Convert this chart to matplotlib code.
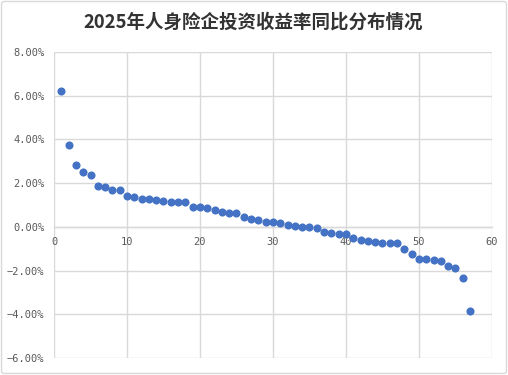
import matplotlib.pyplot as plt
from matplotlib.patches import FancyBboxPatch
from matplotlib.ticker import FuncFormatter

# 57 companies, sorted by year-on-year change in investment yield (%)
rank = list(range(1, 58))
yoy_change = [
    6.21, 3.74, 2.83, 2.51, 2.37, 1.87, 1.83, 1.69, 1.69, 1.42,
    1.37, 1.28, 1.26, 1.23, 1.19, 1.16, 1.16, 1.16, 0.90, 0.90,
    0.87, 0.76, 0.70, 0.65, 0.64, 0.46, 0.38, 0.31, 0.23, 0.23,
    0.18, 0.08, 0.03, 0.00, 0.00, -0.06, -0.24, -0.27, -0.31, -0.34,
    -0.49, -0.59, -0.64, -0.68, -0.73, -0.76, -0.76, -1.02, -1.26, -1.46,
    -1.48, -1.51, -1.58, -1.81, -1.86, -2.34, -3.87,
]
title = "2025年人身险企投资收益率同比分布情况"

grid_c = "#d9d9d9"
text_c = "#595959"

fig = plt.figure(figsize=(5.08, 3.75), dpi=100)
ax = fig.add_axes([0.1063, 0.0453, 0.8622, 0.816])

ax.scatter(rank, yoy_change, s=34, color="#4472C4", zorder=3, linewidths=0)

ax.set_xlim(0, 60)
ax.set_ylim(-6, 8)
ax.set_xticks(range(0, 61, 10))
ax.set_yticks(range(-6, 9, 2))
ax.grid(True, color=grid_c, linewidth=1)
ax.set_axisbelow(True)

for side in ["left", "right", "top"]:
    ax.spines[side].set_visible(False)
ax.spines["bottom"].set_position(("data", 0))
ax.spines["bottom"].set_color(grid_c)
ax.spines["bottom"].set_linewidth(1)

ax.yaxis.set_major_formatter(FuncFormatter(
    lambda v, p: f"{v:.2f}%".replace("-", "\u2212")))
ax.tick_params(axis="both", length=0, labelsize=7.5, labelcolor=text_c)
ax.tick_params(axis="y", pad=7)
ax.tick_params(axis="x", pad=7)
for lab in ax.get_xticklabels() + ax.get_yticklabels():
    lab.set_fontfamily("DejaVu Sans Mono")

fig.text(0.4990, 0.942, title, ha="center", va="center", fontsize=13.3,
         fontweight="bold", color="#333333",
         family=["Noto Sans CJK SC", "DejaVu Sans"])

# outer chart frame
fig.patches.append(FancyBboxPatch((0.003, 0.004), 0.994, 0.992,
                                  boxstyle="round,pad=0,rounding_size=0.006",
                                  transform=fig.transFigure, fill=False,
                                  edgecolor=grid_c, linewidth=1))

fig.savefig("out.png", dpi=100)
